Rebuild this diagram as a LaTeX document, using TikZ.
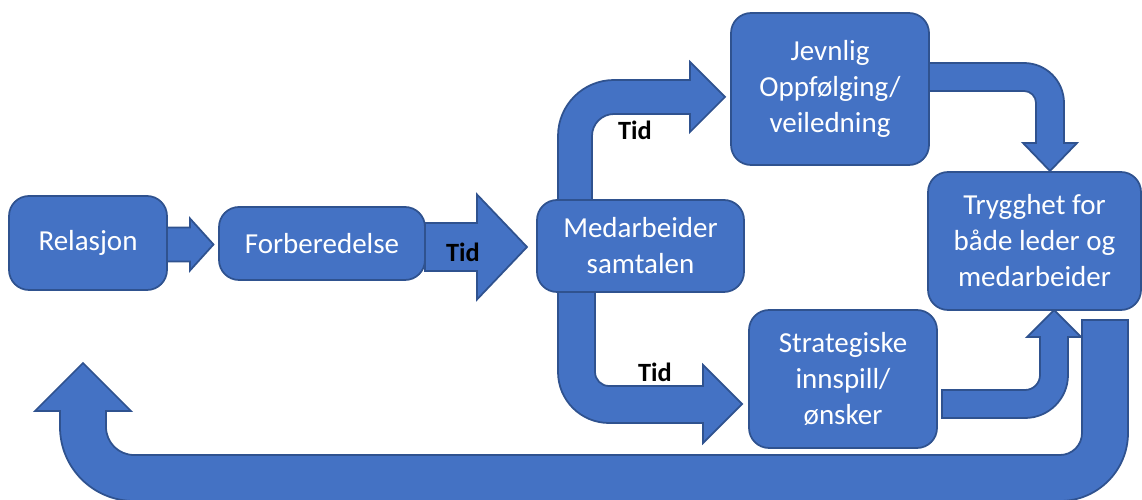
\documentclass[tikz,border=0pt]{standalone}
\usepackage{fontspec}
\setmainfont{Carlito}
\usepackage{tikz}
\usetikzlibrary{shapes,arrows,calc,backgrounds}
\definecolor{boxfill}{HTML}{4472C4}
\definecolor{boxline}{HTML}{2F528F}
\newcommand{\boxfont}{\fontsize{16.5}{20.5}\selectfont}
\newcommand{\tidfont}{\fontsize{15}{18}\selectfont\bfseries}
\tikzstyle{box} = [rectangle, rounded corners=0.4cm, draw=boxline, fill=boxfill, line width=1pt, text=white, align=center, font=\boxfont, inner sep=0pt, outer sep=0pt]
\tikzstyle{blk} = [draw=boxline, fill=boxfill, line width=1pt, line join=miter]
\tikzstyle{tid} = [font=\tidfont, text=black, inner sep=0pt]

\begin{document}
\begin{tikzpicture}[x=0.02cm, y=0.02cm]
			\useasboundingbox (0,0) rectangle (1142,500);
			\node [box, minimum width=3.16cm, minimum height=1.88cm] (rel) at (88,257) {Relasjon};
			\node [box, minimum width=4.12cm, minimum height=1.46cm] (forb) at (322,256.5) {Forberedelse};
			\node [box, minimum width=4.14cm, minimum height=1.84cm] (med) at (640.5,254) {Medarbeider\\samtalen};
			\node [box, minimum width=3.96cm, minimum height=3.04cm] (jev) at (830,411) {Jevnlig\\Oppfølging/\\veiledning};
			\node [box, minimum width=3.76cm, minimum height=2.76cm] (str) at (843,121) {Strategiske\\innspill/\\ønsker};
			\node [box, minimum width=4.26cm, minimum height=2.76cm] (try) at (1034.5,259) {Trygghet for\\både leder og\\medarbeider};

			\node [tid] (tid1) at (463,248) {Tid};
			\node [tid] (tid2) at (635,370) {Tid};
			\node [tid] (tid3) at (655,128) {Tid};

			\begin{scope}[on background layer]
			% relasjon -> forberedelse
			\path [blk] (rel.east |- 0,272.5) -- (190,272.5) -- (190,281.5) -- (213.5,255.5) -- (190,229.5) -- (190,238.5) -- (rel.east |- 0,238.5) -- cycle;
			% forberedelse -> samtalen
			\path [blk] (forb.east |- 0,277) -- (477,277) -- (477,305.5) -- (527,253) -- (477,200.5) -- (477,229) -- (forb.east |- 0,229) -- cycle;
			% samtalen -> oppfolging
			\path [blk] (558,0 |- med.north) -- (558,364) arc[start angle=180, end angle=90, radius=56] -- (690,420) -- (690,438) -- (725,403) -- (690,368) -- (690,386) -- (614,386) arc[start angle=90, end angle=180, radius=22] -- (592,0 |- med.north) -- cycle;
			% samtalen -> strategiske
			\path [blk] (558,0 |- med.south) -- (558,128) arc[start angle=180, end angle=270, radius=51] -- (703,77) -- (703,57) -- (742,96) -- (703,135) -- (703,114) -- (609,114) arc[start angle=270, end angle=180, radius=14] -- (595,0 |- med.south) -- cycle;
			% oppfolging -> trygghet
			\path [blk] (jev.east |- 0,437) -- (1024,437) arc[start angle=90, end angle=0, radius=40] -- (1064,357) -- (1077,357) -- (1050,329) -- (1023,357) -- (1036,357) -- (1036,397) arc[start angle=0, end angle=90, radius=12] -- (jev.east |- 0,409) -- cycle;
			% strategiske -> trygghet
			\path [blk] ($(str.east |- 0,110)+(5,0)$) -- (1025,110) arc[start angle=270, end angle=360, radius=15] -- (1040,163) -- (1027,163) -- (1054,190) -- (1081,163) -- (1068,163) -- (1068,125) arc[start angle=0, end angle=-90, radius=43] -- ($(str.east |- 0,82)+(5,0)$) -- cycle;
			% trygghet -> relasjon
			\path [blk] (1128,180) -- (1128,67) arc[start angle=0, end angle=-90, radius=68] -- (134,-1) arc[start angle=270, end angle=180, radius=74] -- (60,89) -- (35,89) -- (83,137) -- (131,89) -- (106,89) -- (106,73) arc[start angle=180, end angle=270, radius=28] -- (1060,45) arc[start angle=270, end angle=360, radius=22] -- (1082,180) -- cycle;
			\end{scope}
		\end{tikzpicture}
\end{document}
